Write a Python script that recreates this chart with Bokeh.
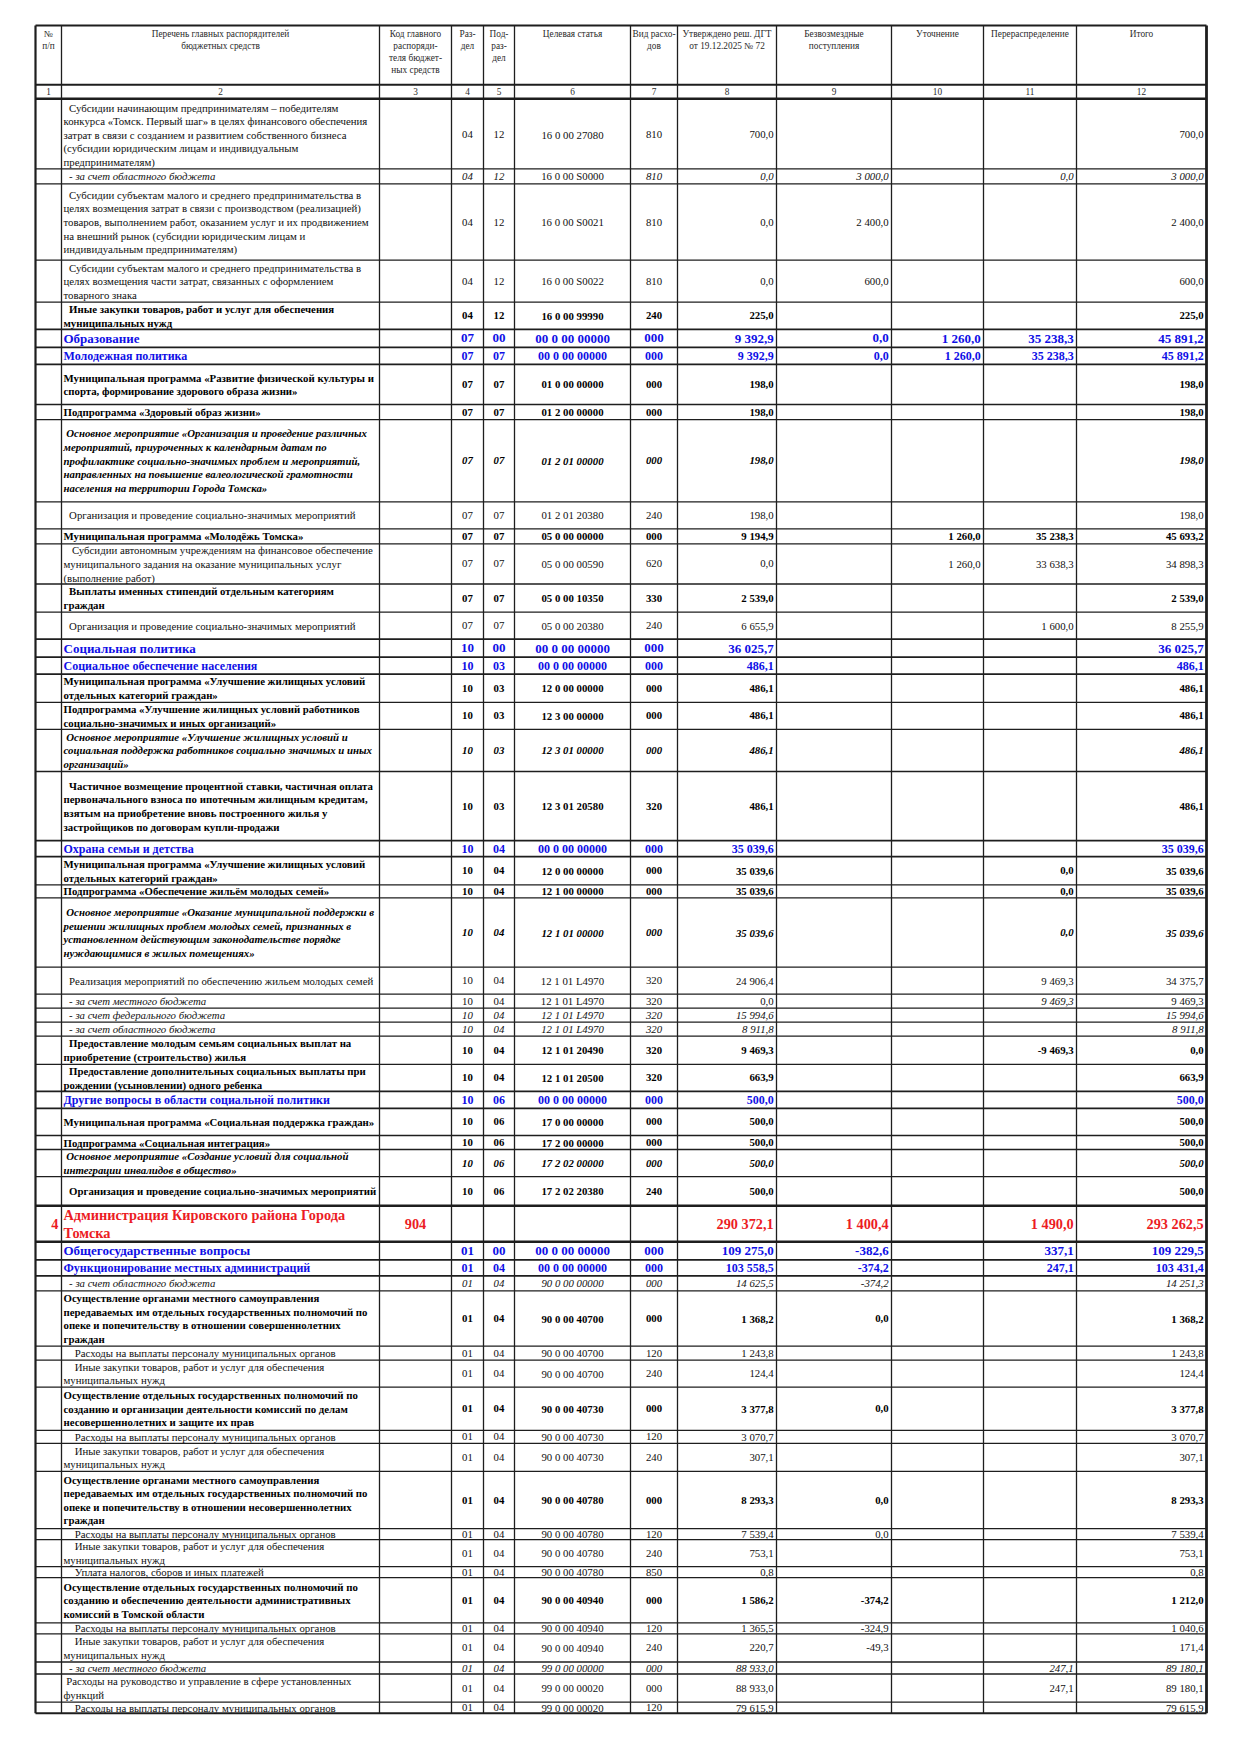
from bokeh.plotting import figure
from bokeh.models import ColumnDataSource, Range1d
from bokeh.core.properties import value, field
from bokeh.embed import file_html
from bokeh.resources import INLINE

FONT = "Liberation Serif"

# ---------------- data ----------------
header_titles = ["№\nп/п", "Перечень главных распорядителей\nбюджетных средств",
                 "Код главного\nраспоряди-\nтеля бюджет-\nных средств", "Раз-\nдел", "Под-\nраз-\nдел",
                 "Целевая статья", "Вид расхо-\nдов", "Утверждено реш. ДГТ\nот 19.12.2025 № 72",
                 "Безвозмездные\nпоступления", "Уточнение", "Перераспределение", "Итого"]
column_numbers = [str(i) for i in range(1, 13)]

row_names = [
    "  Субсидии начинающим предпринимателям – победителям\nконкурса «Томск. Первый шаг» в целях финансового обеспечения\nзатрат в связи с созданием и развитием собственного бизнеса\n(субсидии юридическим лицам и индивидуальным\nпредпринимателям)",
    "  - за счет областного бюджета",
    "  Субсидии субъектам малого и среднего предпринимательства в\nцелях возмещения затрат в связи с производством (реализацией)\nтоваров, выполнением работ, оказанием услуг и их продвижением\nна внешний рынок (субсидии юридическим лицам и\nиндивидуальным предпринимателям)",
    "  Субсидии субъектам малого и среднего предпринимательства в\nцелях возмещения части затрат, связанных с оформлением\nтоварного знака",
    "  Иные закупки товаров, работ и услуг для обеспечения\nмуниципальных нужд",
    "Образование",
    "Молодежная политика",
    "Муниципальная программа «Развитие физической культуры и\nспорта, формирование здорового образа жизни»",
    "Подпрограмма «Здоровый образ жизни»",
    " Основное мероприятие «Организация и проведение различных\nмероприятий, приуроченных к календарным датам по\nпрофилактике социально-значимых проблем и мероприятий,\nнаправленных на повышение валеологической грамотности\nнаселения на территории Города Томска»",
    "  Организация и проведение социально-значимых мероприятий",
    "Муниципальная программа «Молодёжь Томска»",
    "   Субсидии автономным учреждениям на финансовое обеспечение\nмуниципального задания на оказание муниципальных услуг\n(выполнение работ)",
    "  Выплаты именных стипендий отдельным категориям\nграждан",
    "  Организация и проведение социально-значимых мероприятий",
    "Социальная политика",
    "Социальное обеспечение населения",
    "Муниципальная программа «Улучшение жилищных условий\nотдельных категорий граждан»",
    "Подпрограмма «Улучшение жилищных условий работников\nсоциально-значимых и иных организаций»",
    " Основное мероприятие «Улучшение жилищных условий и\nсоциальная поддержка работников социально значимых и иных\nорганизаций»",
    "  Частичное возмещение процентной ставки, частичная оплата\nпервоначального взноса по ипотечным жилищным кредитам,\nвзятым на приобретение вновь построенного жилья у\nзастройщиков по договорам купли-продажи",
    "Охрана семьи и детства",
    "Муниципальная программа «Улучшение жилищных условий\nотдельных категорий граждан»",
    "Подпрограмма «Обеспечение жильём молодых семей»",
    " Основное мероприятие «Оказание муниципальной поддержки в\nрешении жилищных проблем молодых семей, признанных в\nустановленном действующим законодательстве порядке\nнуждающимися в жилых помещениях»",
    "  Реализация мероприятий по обеспечению жильем молодых семей",
    "  - за счет местного бюджета",
    "  - за счет федерального бюджета",
    "  - за счет областного бюджета",
    "  Предоставление молодым семьям социальных выплат на\nприобретение (строительство) жилья",
    "  Предоставление дополнительных социальных выплаты при\nрождении (усыновлении) одного ребенка",
    "Другие вопросы в области социальной политики",
    "Муниципальная программа «Социальная поддержка граждан»",
    "Подпрограмма «Социальная интеграция»",
    " Основное мероприятие «Создание условий для социальной\nинтеграции инвалидов в общество»",
    "  Организация и проведение социально-значимых мероприятий",
    "Администрация Кировского района Города\nТомска",
    "Общегосударственные вопросы",
    "Функционирование местных администраций",
    "  - за счет областного бюджета",
    "Осуществление органами местного самоуправления\nпередаваемых им отдельных государственных полномочий по\nопеке и попечительству в отношении совершеннолетних\nграждан",
    "    Расходы на выплаты персоналу муниципальных органов",
    "    Иные закупки товаров, работ и услуг для обеспечения\nмуниципальных нужд",
    "Осуществление отдельных государственных полномочий по\nсозданию и организации деятельности комиссий по делам\nнесовершеннолетних и защите их прав",
    "    Расходы на выплаты персоналу муниципальных органов",
    "    Иные закупки товаров, работ и услуг для обеспечения\nмуниципальных нужд",
    "Осуществление органами местного самоуправления\nпередаваемых им отдельных государственных полномочий по\nопеке и попечительству в отношении несовершеннолетних\nграждан",
    "    Расходы на выплаты персоналу муниципальных органов",
    "    Иные закупки товаров, работ и услуг для обеспечения\nмуниципальных нужд",
    "    Уплата налогов, сборов и иных платежей",
    "Осуществление отдельных государственных полномочий по\nсозданию и обеспечению деятельности административных\nкомиссий в Томской области",
    "    Расходы на выплаты персоналу муниципальных органов",
    "    Иные закупки товаров, работ и услуг для обеспечения\nмуниципальных нужд",
    "  - за счет местного бюджета",
    " Расходы на руководство и управление в сфере установленных\nфункций",
    "    Расходы на выплаты персоналу муниципальных органов",
]

row_number = [""] * 36 + ["4"] + [""] * 19
row_kod = [""] * 36 + ["904"] + [""] * 19

row_razdel = ["04", "04", "04", "04", "04", "07", "07", "07", "07", "07", "07", "07", "07", "07", "07",
              "10", "10", "10", "10", "10", "10", "10", "10", "10", "10", "10", "10", "10", "10", "10", "10",
              "10", "10", "10", "10", "10", "", "01", "01", "01", "01", "01", "01", "01", "01", "01", "01",
              "01", "01", "01", "01", "01", "01", "01", "01", "01"]
row_podrazdel = ["12", "12", "12", "12", "12", "00", "07", "07", "07", "07", "07", "07", "07", "07", "07",
                 "00", "03", "03", "03", "03", "03", "04", "04", "04", "04", "04", "04", "04", "04", "04", "04",
                 "06", "06", "06", "06", "06", "", "00", "04", "04", "04", "04", "04", "04", "04", "04",
                 "04", "04", "04", "04", "04", "04", "04", "04", "04", "04"]
row_celevaya = ["16 0 00 27080", "16 0 00 S0000", "16 0 00 S0021", "16 0 00 S0022", "16 0 00 99990",
                "00 0 00 00000", "00 0 00 00000", "01 0 00 00000", "01 2 00 00000", "01 2 01 00000",
                "01 2 01 20380", "05 0 00 00000", "05 0 00 00590", "05 0 00 10350", "05 0 00 20380",
                "00 0 00 00000", "00 0 00 00000", "12 0 00 00000", "12 3 00 00000", "12 3 01 00000",
                "12 3 01 20580", "00 0 00 00000", "12 0 00 00000", "12 1 00 00000", "12 1 01 00000",
                "12 1 01 L4970", "12 1 01 L4970", "12 1 01 L4970", "12 1 01 L4970", "12 1 01 20490",
                "12 1 01 20500", "00 0 00 00000", "17 0 00 00000", "17 2 00 00000", "17 2 02 00000",
                "17 2 02 20380", "", "00 0 00 00000", "00 0 00 00000", "90 0 00 00000",
                "90 0 00 40700", "90 0 00 40700", "90 0 00 40700", "90 0 00 40730", "90 0 00 40730",
                "90 0 00 40730", "90 0 00 40780", "90 0 00 40780", "90 0 00 40780", "90 0 00 40780",
                "90 0 00 40940", "90 0 00 40940", "90 0 00 40940", "99 0 00 00000", "99 0 00 00020",
                "99 0 00 00020"]
row_vid = ["810", "810", "810", "810", "240", "000", "000", "000", "000", "000", "240", "000", "620", "330",
           "240", "000", "000", "000", "000", "000", "320", "000", "000", "000", "000", "320", "320", "320",
           "320", "320", "320", "000", "000", "000", "000", "240", "", "000", "000", "000", "000", "120",
           "240", "000", "120", "240", "000", "120", "240", "850", "000", "120", "240", "000", "000", "120"]

N = None
utverzhdeno = [700.0, 0.0, 0.0, 0.0, 225.0, 9392.9, 9392.9, 198.0, 198.0, 198.0, 198.0, 9194.9, 0.0,
               2539.0, 6655.9, 36025.7, 486.1, 486.1, 486.1, 486.1, 486.1, 35039.6, 35039.6, 35039.6,
               35039.6, 24906.4, 0.0, 15994.6, 8911.8, 9469.3, 663.9, 500.0, 500.0, 500.0, 500.0, 500.0,
               290372.1, 109275.0, 103558.5, 14625.5, 1368.2, 1243.8, 124.4, 3377.8, 3070.7, 307.1,
               8293.3, 7539.4, 753.1, 0.8, 1586.2, 1365.5, 220.7, 88933.0, 88933.0, 79615.9]
bezvozmezdnye = [N, 3000.0, 2400.0, 600.0, N, 0.0, 0.0, N, N, N, N, N, N, N, N, N, N, N, N, N, N, N, N, N,
                 N, N, N, N, N, N, N, N, N, N, N, N, 1400.4, -382.6, -374.2, -374.2, 0.0, N, N, 0.0, N, N,
                 0.0, 0.0, N, N, -374.2, -324.9, -49.3, N, N, N]
utochnenie = [N, N, N, N, N, 1260.0, 1260.0, N, N, N, N, 1260.0, 1260.0, N, N, N, N, N, N, N, N, N, N, N,
              N, N, N, N, N, N, N, N, N, N, N, N, N, N, N, N, N, N, N, N, N, N, N, N, N, N, N, N, N, N,
              N, N]
pereraspredelenie = [N, 0.0, N, N, N, 35238.3, 35238.3, N, N, N, N, 35238.3, 33638.3, N, 1600.0, N, N, N,
                     N, N, N, N, 0.0, 0.0, 0.0, 9469.3, 9469.3, N, N, -9469.3, N, N, N, N, N, N, 1490.0,
                     337.1, 247.1, N, N, N, N, N, N, N, N, N, N, N, N, N, N, 247.1, 247.1, N]
itogo = [700.0, 3000.0, 2400.0, 600.0, 225.0, 45891.2, 45891.2, 198.0, 198.0, 198.0, 198.0, 45693.2,
         34898.3, 2539.0, 8255.9, 36025.7, 486.1, 486.1, 486.1, 486.1, 486.1, 35039.6, 35039.6, 35039.6,
         35039.6, 34375.7, 9469.3, 15994.6, 8911.8, 0.0, 663.9, 500.0, 500.0, 500.0, 500.0, 500.0,
         293262.5, 109229.5, 103431.4, 14251.3, 1368.2, 1243.8, 124.4, 3377.8, 3070.7, 307.1, 8293.3,
         7539.4, 753.1, 0.8, 1212.0, 1040.6, 171.4, 89180.1, 89180.1, 79615.9]

# ---------------- layout / styles ----------------
row_kind = ["n", "i", "n", "n", "b", "sec", "sub", "b", "b", "bi", "n", "b", "n", "b", "n", "sec", "sub",
            "b", "b", "bi", "b", "sub", "b", "b", "bi", "n", "i", "i", "i", "b", "b", "sub", "b", "b", "bi",
            "b", "gr", "sec", "sub", "i", "b", "n", "n", "b", "n", "n", "b", "n", "n", "n", "b", "n", "n",
            "i", "n", "n"]
row_edges = [108.2, 176.4, 191.4, 267.6, 309.7, 336.8, 354.9, 371.9, 412.0, 427.1, 509.3, 536.4, 551.4,
             591.5, 619.6, 646.7, 664.7, 681.7, 709.8, 736.9, 779.0, 848.2, 864.2, 892.3, 905.4, 974.6,
             1001.6, 1015.6, 1029.7, 1043.7, 1071.8, 1098.9, 1115.9, 1143.0, 1157.0, 1184.1, 1213.2,
             1249.3, 1267.3, 1283.4, 1298.4, 1353.6, 1367.6, 1394.7, 1437.8, 1450.8, 1478.9, 1536.1,
             1547.1, 1574.2, 1585.2, 1630.3, 1641.4, 1669.5, 1681.5, 1709.6, 1720.7]
col_edges = [43, 69, 387, 459, 491, 522, 638, 685, 784, 899, 991, 1084, 1214]
TOP, HEAD_BOTTOM, NUM_BOTTOM = 33, 92.2, 106.2
# cells whose font is upright although the row is italic: (row, column)
upright_cells = {(1, 6), (26, 4), (26, 5), (26, 6), (26, 7), (26, 8), (26, 12)}

BLACK = "#111111"
BLUE = "#0f0fe6"
RED = "#ec1c24"
kind_style = {
    "n": ("normal", 10.8, BLACK, 13.65),
    "i": ("italic", 10.8, BLACK, 13.65),
    "b": ("bold", 10.8, "#000000", 13.65),
    "bi": ("bold italic", 10.8, "#000000", 13.65),
    "sec": ("bold", 13.0, BLUE, 14.0),
    "sub": ("bold", 12.0, BLUE, 14.0),
    "gr": ("bold", 14.3, RED, 18.3),
}


def fmt(v):
    if v is None:
        return ""
    s = f"{abs(v):,.1f}".replace(",", " ").replace(".", ",")
    return ("-" if v < 0 else "") + s


T = dict(x=[], y=[], text=[], align=[], size=[], style=[], color=[])


def add_text(x, y, s, align, size, style, color):
    T["x"].append(x)
    T["y"].append(y)
    T["text"].append(s)
    T["align"].append(align)
    T["size"].append(f"{size}px")
    T["style"].append(style)
    T["color"].append(color)


# header
for c, title in enumerate(header_titles):
    cx = (col_edges[c] + col_edges[c + 1]) / 2
    for k, line in enumerate(title.split("\n")):
        add_text(cx, 41 + k * 12.3, line, "center", 9.3, "normal", "#2a2a2a")
    add_text(cx, 99.2, column_numbers[c], "center", 9.3, "normal", "#2a2a2a")

# body
for r in range(len(row_names)):
    top, bot = row_edges[r], row_edges[r + 1]
    cy = (top + bot) / 2
    style, size, color, lh = kind_style[row_kind[r]]
    upright = style.replace("italic", "").strip() or "normal"

    def st(col):
        return upright if (r, col) in upright_cells else style

    lines = row_names[r].split("\n")
    n = len(lines)
    for k, line in enumerate(lines):
        indent = (len(line) - len(line.lstrip(" "))) * 2.8
        add_text(col_edges[1] + 2 + indent, cy + (k - (n - 1) / 2) * lh, line.strip(), "left",
                 size, style, color)
    if row_number[r]:
        add_text(col_edges[1] - 3, cy, row_number[r], "right", size, style, color)
    if row_kod[r]:
        add_text((col_edges[2] + col_edges[3]) / 2, cy, row_kod[r], "center", size, style, color)
    for col, arr in ((4, row_razdel), (5, row_podrazdel), (6, row_celevaya), (7, row_vid)):
        if arr[r]:
            add_text((col_edges[col - 1] + col_edges[col]) / 2, cy, arr[r], "center", size, st(col), color)
    for col, arr in ((8, utverzhdeno), (9, bezvozmezdnye), (10, utochnenie), (11, pereraspredelenie),
                     (12, itogo)):
        s = fmt(arr[r])
        if s:
            add_text(col_edges[col] - 2.8, cy, s, "right", size, st(col), color)

# grid lines
L = dict(x0=[], y0=[], x1=[], y1=[], w=[])


def add_line(x0, y0, x1, y1, w):
    L["x0"].append(x0)
    L["y0"].append(y0)
    L["x1"].append(x1)
    L["y1"].append(y1)
    L["w"].append(w)


add_line(col_edges[0], TOP, col_edges[-1], TOP, 2.2)
add_line(col_edges[0], HEAD_BOTTOM, col_edges[-1], HEAD_BOTTOM, 2.0)
add_line(col_edges[0], NUM_BOTTOM, col_edges[-1], NUM_BOTTOM, 2.6)
for i, yv in enumerate(row_edges[1:], start=1):
    kinds = {row_kind[i - 1], row_kind[i] if i < len(row_kind) else "n"}
    w = 1.3
    if kinds & {"sec", "sub"}:
        w = 1.8
    if "gr" in kinds:
        w = 2.6
    if i == len(row_edges) - 1:
        w = 2.0
    add_line(col_edges[0], yv, col_edges[-1], yv, w)
for j, xv in enumerate(col_edges):
    w = 2.2 if j == 0 else (2.8 if j == len(col_edges) - 1 else 1.3)
    add_line(xv, TOP, xv, row_edges[-1], w)

# ---------------- figure ----------------
p = figure(width=1224, height=1737, x_range=Range1d(8, 1232), y_range=Range1d(1745, 8),
           output_backend="svg", toolbar_location=None, x_axis_type=None, y_axis_type=None,
           min_border=0, outline_line_color=None, background_fill_color="white",
           border_fill_color="white")
p.min_border_left = p.min_border_right = p.min_border_top = p.min_border_bottom = 0
p.xgrid.visible = False
p.ygrid.visible = False

p.segment(x0="x0", y0="y0", x1="x1", y1="y1", source=ColumnDataSource(L), line_width=field("w"),
          line_color="#1e1e1e")
p.text(x="x", y="y", text="text", source=ColumnDataSource(T), text_align=field("align"),
       text_baseline="middle", text_font=value(FONT), text_font_size=field("size"),
       text_font_style=field("style"), text_color=field("color"))

open("out.html", "w").write(file_html(p, INLINE))
